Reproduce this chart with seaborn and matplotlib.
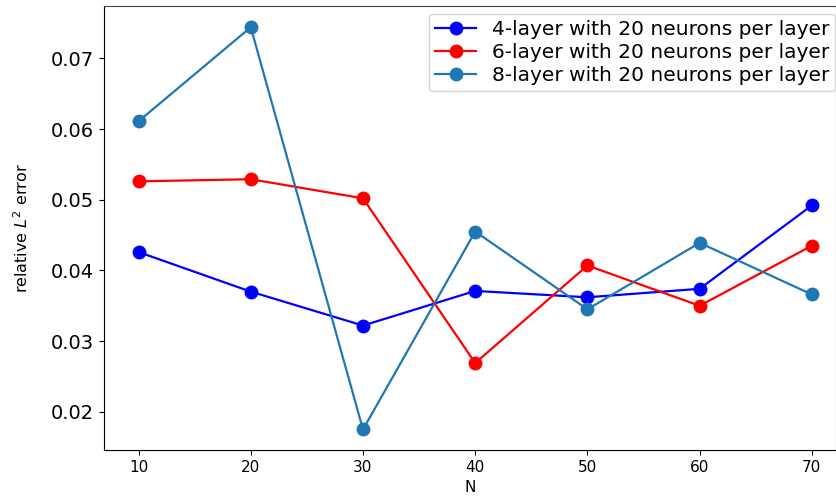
import matplotlib
matplotlib.use("Agg")
import matplotlib.pyplot as plt
import pandas as pd
import seaborn as sns

n_values = [10, 20, 30, 40, 50, 60, 70]
err_4layer = [0.0426, 0.0370, 0.0322, 0.0371, 0.0362, 0.0374, 0.0492]
err_6layer = [0.0526, 0.0529, 0.0502, 0.0269, 0.0407, 0.0350, 0.0435]
err_8layer = [0.0611, 0.0744, 0.0175, 0.0455, 0.0345, 0.0439, 0.0366]
labels = [
    "4-layer with 20 neurons per layer",
    "6-layer with 20 neurons per layer",
    "8-layer with 20 neurons per layer",
]
colors = ["blue", "red", "#1f77b4"]

df = pd.concat(
    [
        pd.DataFrame({"N": n_values, "error": vals, "model": lab})
        for vals, lab in zip([err_4layer, err_6layer, err_8layer], labels)
    ],
    ignore_index=True,
)

fig = plt.figure(figsize=(8.37, 5.03), dpi=100)
ax = fig.add_axes([0.1237, 0.1054, 0.8751, 0.8826])

sns.lineplot(
    data=df, x="N", y="error", hue="model", palette=colors,
    marker="o", markersize=10, markeredgewidth=0, linewidth=1.6, ax=ax,
)

ax.set_xlim(6.88, 72.15)
ax.set_ylim(0.0146, 0.0774)
ax.set_xticks(n_values)
ax.tick_params(axis="x", labelsize=11)
ax.tick_params(axis="y", labelsize=14)
ax.set_xlabel("N", fontsize=11)
ax.set_ylabel("relative $L^2$ error", fontsize=11.5, labelpad=14)
for side in ["top", "right"]:
    ax.spines[side].set_color("#444444")

leg = ax.legend(loc="upper right", bbox_to_anchor=(0.999, 0.983),
                fontsize=14.5, handlelength=2, borderaxespad=0,
                labelspacing=0.2, borderpad=0.3)
leg.set_title(None)

fig.savefig("out.png", dpi=100)
